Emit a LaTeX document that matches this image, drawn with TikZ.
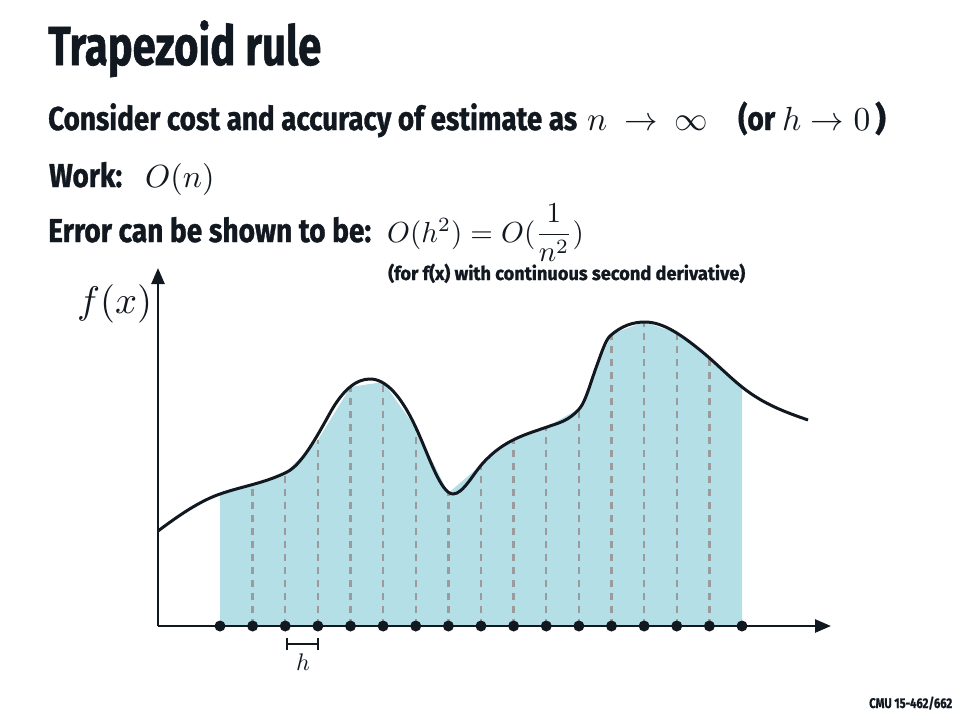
\documentclass[tikz,border=0pt]{standalone}
\usepackage{fontspec}
\setmainfont{Fira Sans}[BoldFeatures={FakeBold=1.2}]
\usetikzlibrary{arrows.meta}
\definecolor{ink}{HTML}{121820}
\definecolor{area}{HTML}{B4DFE7}
\definecolor{gridc}{HTML}{9B9B9B}
\tikzset{
  txt/.style={inner sep=0pt, anchor=base west, text=ink},
  mth/.style={inner sep=0pt, anchor=base west, text=ink},
  dot/.style={circle, fill=ink, inner sep=0pt, minimum size=11pt},
  axis/.style={draw=ink, line width=2.6pt, -{Triangle[length=16pt,width=13pt]}},
  curve/.style={draw=ink, line width=3pt},
  sample/.style={draw=gridc, line width=2.4pt, dash pattern=on 7pt off 6pt},
}
\begin{document}
\begin{tikzpicture}[x=1pt,y=-1pt]
\useasboundingbox (0,0) rectangle (960,720);
% texts
\node[txt, font=\bfseries\fontsize{55}{60}\selectfont] (title) at (48,65) {\resizebox{273pt}{\height}{Trapezoid rule}};
\node[txt, font=\bfseries\fontsize{33}{38}\selectfont] (l1) at (48,130) {\resizebox{529pt}{\height}{Consider cost and accuracy of estimate as}};
\node[mth] (l1m) at (587,130) {\scalebox{3.35}{$n \mskip4mu\rightarrow\mskip4mu \infty$}};
\node[txt, font=\bfseries\fontsize{33}{38}\selectfont] (l1b) at (738,130) {\resizebox{37pt}{\height}{(or}};
\node[mth] (l1m2) at (782,130) {\scalebox{3.35}{$h \rightarrow 0$}};
\node[txt, font=\bfseries\fontsize{33}{38}\selectfont] (l1c) at (875,130) {)};
\node[txt, font=\bfseries\fontsize{33}{38}\selectfont] (work) at (49,187) {\resizebox{73pt}{\height}{Work:}};
\node[mth] (workm) at (145,187) {\scalebox{3.2}{$O(n)$}};
\node[txt, font=\bfseries\fontsize{33}{38}\selectfont] (err) at (48,242) {\resizebox{323pt}{\height}{Error can be shown to be:}};
\node[mth] (errm) at (387,242) {\scalebox{2.9}{$O(h^2) = O({\displaystyle\frac{1}{n^2}})$}};
\node[txt, font=\bfseries\fontsize{19}{22}\selectfont] (note) at (388,280) {\resizebox{357pt}{\height}{(for f(x) with continuous second derivative)}};
\node[txt, font=\bfseries\fontsize{14}{16}\selectfont] (cmu) at (869,708) {\resizebox{83pt}{\height}{CMU 15-462/662}};
\node[mth] (fx) at (77,313) {\scalebox{3.85}{$f(x)$}};
% samples
\coordinate (O) at (158,626);
\coordinate (ytop) at (158,268);
\coordinate (xend) at (831,626);
\foreach \i/\y in {0/494,1/484,2/473,3/440,4/387,5/382,6/428,7/493,8/465,9/439,10/427,11/409,12/334,13/322,14/333,15/357,16/387} {
  \pgfmathsetmacro\xx{220+32.625*\i}
  \coordinate (c\i) at (\xx,\y);
  \coordinate (b\i) at (\xx,626);
}
\fill[area] (b0) -- (c0) -- (c1) -- (c2) -- (c3) -- (c4) -- (c5) -- (c6) -- (c7) -- (c8) -- (c9) -- (c10) -- (c11) -- (c12) -- (c13) -- (c14) -- (c15) -- (c16) -- (b16) -- cycle;
\foreach \i in {1,...,15} { \draw[sample] (b\i) -- (c\i); }
\draw[curve] (158,531) .. controls (178.7,515.5) and (199.3,501.2) .. (220,494)
  .. controls (242.3,486.2) and (264.7,483.2) .. (287,472)
  .. controls (301.3,464.8) and (315.7,438.8) .. (330,413)
  .. controls (343.3,389) and (356.7,379) .. (370,379)
  .. controls (385.7,379) and (401.3,395.5) .. (417,430)
  .. controls (429,456.4) and (441,494) .. (453,494)
  .. controls (463,494) and (473,474) .. (483,463)
  .. controls (504.3,439.6) and (525.7,434.5) .. (547,427)
  .. controls (558,423.1) and (569,421.2) .. (580,408)
  .. controls (585.7,401.2) and (591.3,380.3) .. (597,365)
  .. controls (601.3,353.3) and (605.7,339.9) .. (610,336)
  .. controls (621.7,325.5) and (633.3,322) .. (645,322)
  .. controls (663.3,322) and (681.7,335.3) .. (700,350)
  .. controls (714,361.2) and (728,375.8) .. (742,387)
  .. controls (764,404.6) and (786,412.3) .. (808,420);
\draw[axis] (O) -- (ytop);
\draw[axis] (O) -- (xend);
\foreach \i in {0,...,16} { \node[dot] (p\i) at (b\i) {}; }
% h bracket
\coordinate (hl) at (287.25,644);
\coordinate (hr) at (317.9,644);
\draw[ink, line width=2.6pt] (hl) -- (hr);
\draw[ink, line width=2.4pt] ([yshift=-6pt]hl) -- ([yshift=6pt]hl);
\draw[ink, line width=2.4pt] ([yshift=-6pt]hr) -- ([yshift=6pt]hr);
\node[inner sep=0pt, anchor=base, text=ink] (hlab) at (303,670) {\scalebox{2.4}{$h$}};
\end{tikzpicture}
\end{document}
